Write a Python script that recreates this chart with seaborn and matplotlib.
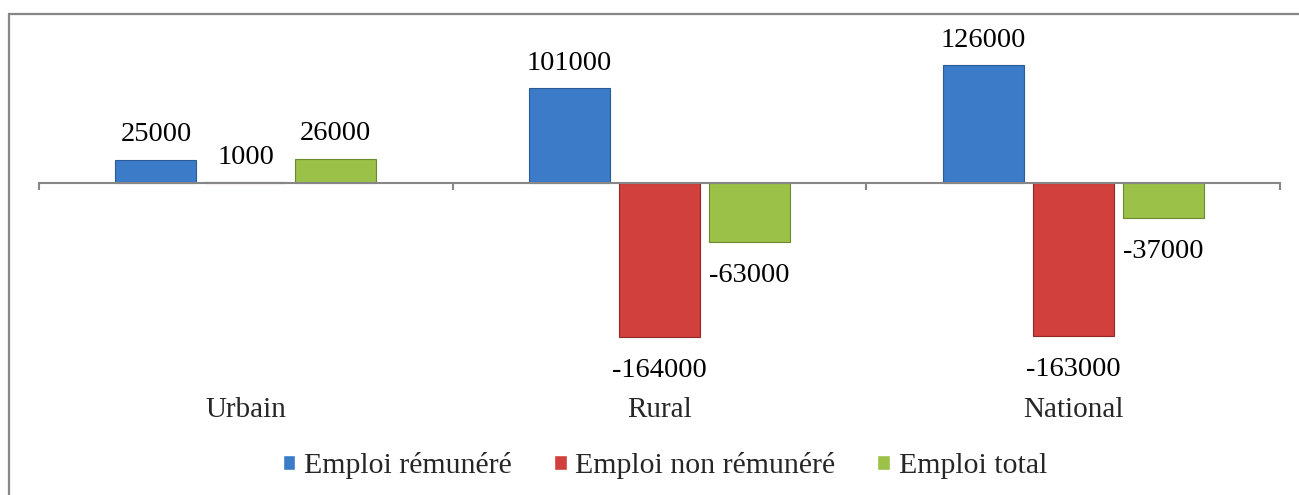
import matplotlib
matplotlib.use("Agg")
import matplotlib.pyplot as plt
from matplotlib.patches import Rectangle
import seaborn as sns
import pandas as pd

# ---- data ----
categories = ["Urbain", "Rural", "National"]
series_names = ["Emploi rémunéré", "Emploi non rémunéré", "Emploi total"]
emploi_remunere = [25000, 101000, 126000]
emploi_non_remunere = [1000, -164000, -163000]
emploi_total = [26000, -63000, -37000]

series_values = [emploi_remunere, emploi_non_remunere, emploi_total]
rows = []
for name, vals in zip(series_names, series_values):
    for cat, v in zip(categories, vals):
        rows.append({"Zone": cat, "Type": name, "Valeur": v})
df = pd.DataFrame(rows)

colors = ["#3b7bc8", "#d1403c", "#9bc148"]
edges = ["#2a5a94", "#8f2a27", "#6a8a2c"]

sns.set_theme(style="white")
plt.rcParams["font.family"] = ["Liberation Serif", "DejaVu Serif"]

W, H = 1299, 495
fig = plt.figure(figsize=(W / 100, H / 100), dpi=100)
ax = fig.add_axes([39 / W, 1 - 351.7 / H, (1280 - 39) / W, 299.8 / H])

sns.barplot(data=df, x="Zone", y="Valeur", hue="Type", order=categories,
            hue_order=series_names, palette=colors, width=0.652, gap=0.1,
            ax=ax, legend=True, saturation=1)

for cont, ec in zip(ax.containers, edges):
    for p in cont:
        p.set_edgecolor(ec)
        p.set_linewidth(0.8)
    anns = ax.bar_label(cont, fmt="%d", padding=9, fontsize=20.5, color="black")
    for p, a in zip(cont, anns):
        if p.get_height() < 0:
            a.xyann = (0, -15)

ax.set_ylim(-180000, 140000)
ax.set_xlim(-0.5, 2.5)
ax.set_xlabel("")
ax.set_ylabel("")
ax.set_yticks([])

for s in ["top", "left", "right"]:
    ax.spines[s].set_visible(False)
ax.spines["bottom"].set_position(("data", 0))
ax.spines["bottom"].set_color("#878787")
ax.spines["bottom"].set_linewidth(1.5)

ax.set_xticks([-0.5, 0.5, 1.5, 2.5], minor=True)
ax.tick_params(axis="x", which="minor", direction="out", length=5,
               width=1.5, color="#878787", bottom=True)
ax.tick_params(axis="x", which="major", length=0, pad=154, labelsize=21,
               bottom=True)

ax.legend_.remove()
handles, labels = ax.get_legend_handles_labels()
fig.legend(handles, labels, loc="center", bbox_to_anchor=(0.512, 0.059),
           ncol=3, frameon=False, fontsize=21.5, handlelength=0.42,
           handleheight=0.42, handletextpad=0.3, columnspacing=1.4)

fig.add_artist(Rectangle((9 / W, -0.1), 1.2, 1 - 14 / H + 0.1,
                         transform=fig.transFigure, fill=False,
                         edgecolor="#878787", linewidth=1.6))

fig.savefig("out.png", dpi=100)
